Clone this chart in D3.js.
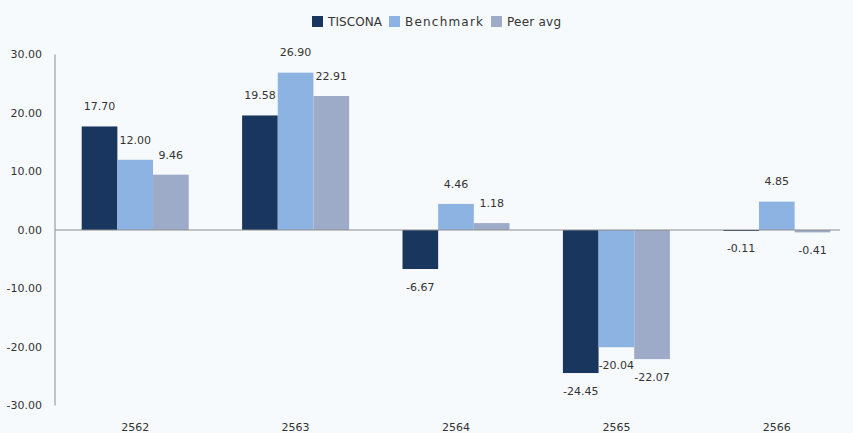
<!DOCTYPE html>
<html><head><meta charset="utf-8">
<script src="https://cdn.jsdelivr.net/npm/d3@7"></script>
<style>
html,body{margin:0;padding:0;background:#f7fafd;}
svg{display:block;font-family:"DejaVu Sans",sans-serif;}
</style></head><body>
<svg id="c" width="853" height="433"></svg>
<script>
const categories = ["2562","2563","2564","2565","2566"];
const seriesNames = ["TISCONA","Benchmark","Peer avg"];
const tiscona = [17.70, 19.58, -6.67, -24.45, -0.11];
const benchmark = [12.00, 26.90, 4.46, -20.04, 4.85];
const peerAvg = [9.46, 22.91, 1.18, -22.07, -0.41];
const yTicks = [30, 20, 10, 0, -10, -20, -30];
const colors = ["#19375e", "#8db3e2", "#9eabc8"];

(function(){
const series = [tiscona, benchmark, peerAvg];
const fmt = v => v.toFixed(2);
const svg = d3.select("#c");
const mLeft = 55, mRight = 857, mTop = 54.5, mBottom = 405.5;

const x = d3.scaleBand().domain(categories).range([mLeft, mRight]).paddingInner(0).paddingOuter(0);
const x1 = d3.scaleBand().domain(seriesNames).range([x.bandwidth()/2 - 53.5, x.bandwidth()/2 + 53.5]).padding(0);
const y = d3.scaleLinear().domain([-30, 30]).range([mBottom, mTop]);

svg.append("line").attr("x1", mLeft).attr("x2", mLeft).attr("y1", y(30)).attr("y2", y(-30))
  .attr("stroke", "#8c8c8c").attr("stroke-width", 1);
svg.append("g").selectAll("text").data(yTicks).join("text")
  .attr("x", 42).attr("y", d => y(d)).attr("dy", "0.35em")
  .attr("text-anchor", "end").attr("font-size", 11).attr("fill", "#333")
  .text(d => fmt(d));

categories.forEach((c, ci) => {
  const g = svg.append("g").attr("transform", `translate(${x(c)},0)`);
  seriesNames.forEach((s, si) => {
    const v = series[si][ci];
    g.append("rect")
      .attr("x", x1(s)).attr("width", x1.bandwidth())
      .attr("y", y(Math.max(0, v))).attr("height", Math.max(1, Math.abs(y(v) - y(0))))
      .attr("fill", colors[si]);
    g.append("text")
      .attr("x", x1(s) + x1.bandwidth()/2)
      .attr("y", v >= 0 ? y(v) - 20 : y(v) + 18)
      .attr("dy", "0.35em").attr("text-anchor", "middle")
      .attr("font-size", 11).attr("fill", "#333")
      .text(fmt(v));
  });
});

svg.append("line").attr("x1", mLeft).attr("x2", 840).attr("y1", y(0)).attr("y2", y(0))
  .attr("stroke", "#8c8c8c").attr("stroke-width", 1);

svg.append("g").selectAll("text").data(categories).join("text")
  .attr("x", d => x(d) + x.bandwidth()/2).attr("y", 427).attr("dy", "0.35em")
  .attr("text-anchor", "middle").attr("font-size", 11).attr("fill", "#333")
  .text(d => d);

const legX = [312, 389, 491];
const legW = [54, 78, 54];
const leg = svg.append("g");
seriesNames.forEach((s, i) => {
  leg.append("rect").attr("x", legX[i]).attr("y", 16).attr("width", 11).attr("height", 11).attr("fill", colors[i]);
  leg.append("text").attr("x", legX[i] + 16).attr("y", 21.5).attr("dy", "0.35em")
    .attr("font-size", 12).attr("fill", "#333")
    .attr("textLength", legW[i]).attr("lengthAdjust", "spacing").text(s);
});
})();
</script>
</body></html>
